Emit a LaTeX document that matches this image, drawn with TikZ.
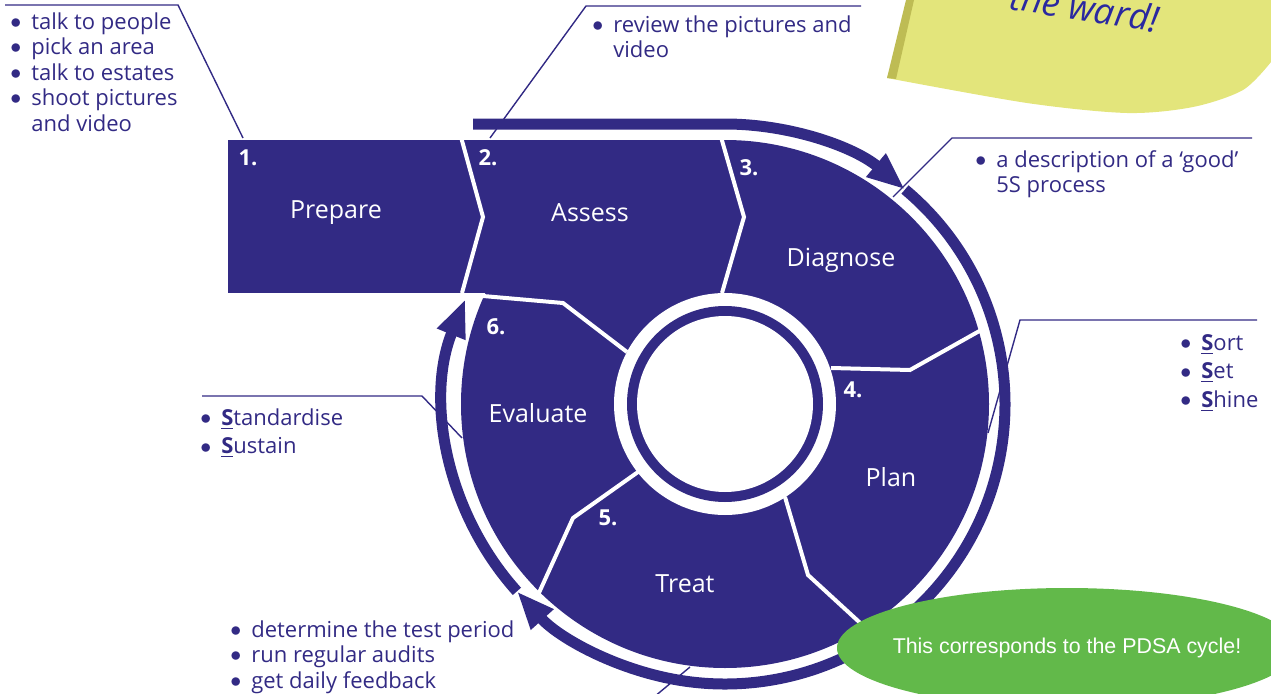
\documentclass[tikz,border=0pt]{standalone}
\usepackage{fontspec}
\setmainfont{Open Sans}
\newfontfamily\pdsafont{Liberation Sans}
\usepackage{xcolor}
\usepackage{tikz}
\usetikzlibrary{arrows.meta,positioning,calc,shapes.geometric}
\definecolor{cycleblue}{RGB}{50,42,132}
\definecolor{pdsagreen}{RGB}{98,185,74}
\definecolor{noteyellow}{RGB}{227,229,123}
\definecolor{noteshadow}{RGB}{190,188,84}
\definecolor{inkblue}{RGB}{42,40,160}
\newcommand{\notelist}[1]{\begin{tabular}{@{}l@{\hspace{5pt}}l@{}}#1\end{tabular}}
\newcommand{\bul}{\raisebox{0.4pt}{$\bullet$}}
\newcommand{\Sfirst}{\underline{\textbf{S}}}

\begin{document}
\begin{tikzpicture}[x=0.5pt,y=0.5pt]
\tikzstyle{band}=[draw=cycleblue,line width=5.5pt]
\tikzstyle{cut}=[draw=white,line width=2pt]
\tikzstyle{leader}=[draw=cycleblue,line width=0.7pt]
\tikzstyle{tip}=[-{Triangle[length=19pt,width=14pt]}]
\tikzstyle{step name}=[text=white,font=\fontsize{12.5}{15}\selectfont]
\tikzstyle{step num}=[text=white,font=\fontsize{11}{13}\selectfont\bfseries]
\tikzstyle{note}=[text=cycleblue,inner sep=0pt,anchor=north west,align=left,font=\fontsize{11}{12.75}\selectfont]
\tikzstyle{snote}=[note,font=\fontsize{11}{14.25}\selectfont]

\useasboundingbox (0,0) rectangle (1271,693);
\clip (0,0) rectangle (1271,693);

\coordinate (C) at (725,289);

% sticky note
\fill[noteyellow] (913,693) -- (887,615) -- plot[smooth] coordinates {(887,615) (1027,590) (1127,580) (1193,586) (1243,603) (1271,631)} -- (1271,693) -- cycle;
\fill[noteshadow] (906,693) -- (887,615) -- (896,614) -- (914,693) -- cycle;
\node[rotate=-9,anchor=base west,inner sep=0pt,text=inkblue,font=\fontsize{18}{20}\selectfont\itshape] (ward) at (1008,684) {the ward!};

% the cycle
\fill[cycleblue] (228,400) rectangle (725,553);
\fill[cycleblue] (C) circle[radius=264];
\fill[white] (C) circle[radius=111];
\fill[cycleblue] (C) circle[radius=98];
\fill[white] (C) circle[radius=88];

\draw[cut] (461,556) -- (483,476) -- (462,400);
\draw[cut] (721,556) -- (744,476) -- (722,400);
\draw[cut] (831,325) -- (910,323) -- (983,364);
\draw[cut] (785,196) -- (808,118) -- (869,62);
\draw[cut] (638,221) -- (573,175) -- (538,98);
\draw[cut] (627,341) -- (563,390) -- (483,397);

% outer arrows
\draw[band,tip] (473,569) -- (725,569) arc[start angle=90,end angle=50,radius=280];
\draw[band,tip] ($(C)+(50:280)$) arc[start angle=50,end angle=-138,radius=280];
\draw[band,tip] ($(C)+(-138:280)$) arc[start angle=-138,end angle=-202,radius=280];

\node[step name] (Prep) at (336,480) {Prepare};
\node[step name] (Asse) at (590,480) {Assess};
\node[step name] (Diag) at (841,433) {Diagnose};
\node[step name] (Plan) at (891,216) {Plan};
\node[step name] (Trea) at (685,109) {Treat};
\node[step name] (Eval) at (538,280) {Evaluate};

\node[step num] (N1) at (248,535) {1.};
\node[step num] (N2) at (488,535) {2.};
\node[step num] (N3) at (749,525) {3.};
\node[step num] (N4) at (853,303) {4.};
\node[step num] (N5) at (608,175) {5.};
\node[step num] (N6) at (496,366) {6.};

% notes
\node[note] (T1) at (10,682) {\notelist{\bul & talk to people\\ \bul & pick an area\\ \bul & talk to estates\\ \bul & shoot pictures\\ & and video}};
\node[note] (T2) at (592,679) {\notelist{\bul & review the pictures and\\ & video}};
\node[note] (T3) at (975,544) {\notelist{\bul & a description of a ‘good’\\ & 5S process}};
\node[snote] (T4) at (1180,363) {\notelist{\bul & \Sfirst ort\\ \bul & \Sfirst et\\ \bul & \Sfirst hine}};
\node[snote] (T5) at (200,288) {\notelist{\bul & \Sfirst tandardise\\ \bul & \Sfirst ustain}};
\node[note] (T6) at (230,74) {\notelist{\bul & determine the test period\\ \bul & run regular audits\\ \bul & get daily feedback}};

\coordinate (e1) at (243,555);
\coordinate (e2) at (490,555);
\coordinate (e3) at (893,496);
\coordinate (e4) at (988,260);
\coordinate (e5) at (462,255);
\coordinate (e6) at (690,26);
\draw[leader] (5,688) -- (178,688) -- (e1);
\draw[leader] (861,687) -- (586,687) -- (e2);
\draw[leader] (1252,555) -- (952,555) -- (e3);
\draw[leader] (1257,373) -- (1020,373) -- (e4);
\draw[leader] (202,297) -- (422,297) -- (e5);
\draw[leader] (e6) -- (654,-4);

\node[ellipse,fill=pdsagreen,minimum width=230pt,minimum height=60pt,inner ysep=0pt,inner xsep=-8pt,text=white,font=\pdsafont\fontsize{10.7}{12}\selectfont] (pdsa) at (1067,45) {This corresponds to the PDSA cycle!};
\end{tikzpicture}
\end{document}
